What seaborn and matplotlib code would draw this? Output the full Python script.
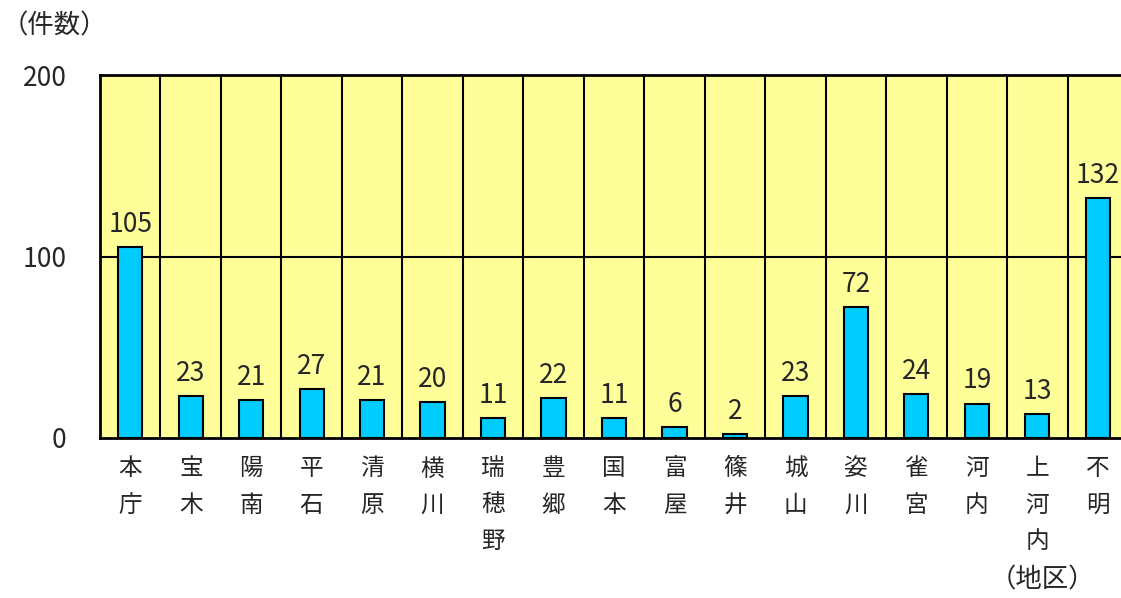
import pandas as pd
import matplotlib.pyplot as plt
import seaborn as sns

# 地区別件数
districts = ['本庁', '宝木', '陽南', '平石', '清原', '横川', '瑞穂野', '豊郷', '国本',
             '富屋', '篠井', '城山', '姿川', '雀宮', '河内', '上河内', '不明']
counts = [105, 23, 21, 27, 21, 20, 11, 22, 11, 6, 2, 23, 72, 24, 19, 13, 132]
y_ticks = [0, 100, 200]

sns.set_style('white')
plt.rcParams['font.family'] = ['Noto Sans CJK JP', 'DejaVu Sans']

df = pd.DataFrame({'地区': districts, '件数': counts})

fig = plt.figure(figsize=(11.21, 5.98), dpi=100)
ax = fig.add_axes([100 / 1121, 160 / 598, 1028 / 1121, 363 / 598])
ax.set_facecolor('#FFFF99')

sns.barplot(data=df, x='地区', y='件数', color='#00CCFF', width=0.4,
            edgecolor='black', linewidth=1.5, saturation=1, ax=ax, zorder=3)

# value labels
for i, v in enumerate(counts):
    ax.text(i, v + 5, str(v), ha='center', va='bottom', fontsize=19, zorder=4)

ax.set_xlim(-0.5, len(districts) - 0.5)
ax.set_ylim(0, 200)
ax.set_yticks(y_ticks)
ax.set_yticklabels([str(t) for t in y_ticks], fontsize=19)

# category separators and horizontal grid
for b in range(1, len(districts)):
    ax.axvline(b - 0.5, color='black', linewidth=1.5, zorder=1)
ax.axhline(100, color='black', linewidth=1.5, zorder=1)

ax.set_xticks(range(len(districts)))
ax.set_xticklabels(['\n'.join(d) for d in districts], fontsize=17, va='top')
for t in ax.get_xticklabels():
    t.set_linespacing(1.75)
ax.tick_params(axis='both', length=0)
ax.tick_params(axis='x', pad=14)
ax.tick_params(axis='y', pad=24)
ax.set_xlabel('')
ax.set_ylabel('')

for side in ['left', 'top', 'bottom']:
    ax.spines[side].set_visible(True)
    ax.spines[side].set_color('black')
    ax.spines[side].set_linewidth(2)
ax.spines['right'].set_visible(False)

fig.text(2 / 1121, 1 - 26 / 598, '（件数）', fontsize=19, va='center', ha='left')
fig.text(990 / 1121, 1 - 580 / 598, '（地区）', fontsize=19, va='center', ha='left')

fig.savefig('out.png', dpi=100)
